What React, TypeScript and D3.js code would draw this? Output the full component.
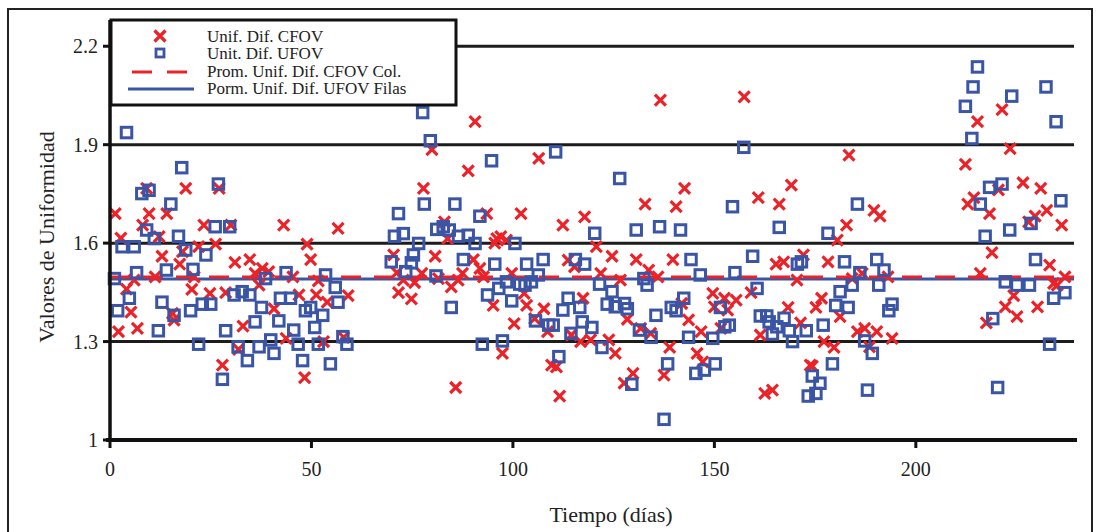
import React from "react";
import * as d3 from "d3";

const cfovDays = [
  1.3, 2.7, 2.1, 4.1, 5.2, 6.0, 6.8, 8.1, 9.1, 9.7, 11.2, 12.2, 12.9, 14.1, 15.5, 15.9, 17.3, 18.0, 18.8, 20.3,
  20.9, 22.0, 23.3, 24.8, 26.2, 27.1, 27.9, 28.7, 30.0, 31.0, 31.9, 33.0, 34.7, 36.0, 37.0, 37.8, 39.4, 40.7, 43.1, 43.7,
  45.4, 46.9, 48.3, 48.9, 49.8, 51.2, 51.7, 53.0, 53.9, 56.6, 58.0, 59.1, 70.4, 71.6, 71.2, 72.8, 74.8, 75.6, 77.4, 77.8,
  90.6, 79.9, 88.9, 106.4, 93.5, 102.0, 112.4, 117.8, 83.0, 83.8, 80.7, 96.0, 97.0, 98.4, 95.5, 90.2, 87.5, 86.4, 84.7, 81.5,
  91.8, 92.7, 99.7, 95.1, 102.8, 103.4, 100.3, 107.7, 108.6, 105.4, 97.4, 85.8, 109.6, 110.8, 111.6, 113.7, 115.3, 117.4, 116.8, 114.5,
  136.6, 157.4, 142.6, 132.8, 140.5, 120.7, 124.6, 130.6, 139.7, 133.7, 136.0, 121.8, 126.7, 128.4, 131.7, 134.2, 119.3, 123.8, 125.4, 138.9,
  129.8, 127.6, 137.5, 143.6, 145.7, 146.7, 147.1, 149.6, 150.0, 152.5, 153.3, 155.4, 151.6, 141.9,
  183.4, 169.1, 160.9, 166.1, 189.6, 191.1, 182.8, 180.5, 172.1, 165.3, 167.2, 178.2, 170.5, 184.2, 186.7, 193.1, 159.1, 176.6, 175.2, 181.2,
  168.3, 171.4, 161.4, 185.5, 187.3, 190.3, 194.1, 177.2, 179.7, 188.5, 173.8, 174.3, 162.5, 164.4,
  221.4, 215.3, 223.4, 212.3, 226.6, 231.0, 220.5, 214.4, 212.9, 218.3, 232.5, 229.6, 228.0, 236.2, 218.9, 233.2, 216.0, 237.0, 234.2, 235.1,
  224.3, 222.2, 230.2, 225.1, 217.5,
];
const cfovValues = [
  1.69, 1.615, 1.33, 1.46, 1.39, 1.487, 1.34, 1.655, 1.767, 1.69, 1.497, 1.62, 1.56, 1.69, 1.386, 1.365, 1.536, 1.574, 1.767, 1.459,
  1.497, 1.589, 1.655, 1.447, 1.597, 1.767, 1.228, 1.449, 1.655, 1.541, 1.276, 1.347, 1.55, 1.508, 1.472, 1.523, 1.513, 1.4, 1.655, 1.31,
  1.497, 1.442, 1.19, 1.597, 1.55, 1.442, 1.485, 1.3, 1.42, 1.645, 1.313, 1.44, 1.564, 1.449, 1.51, 1.487, 1.43, 1.48, 1.508, 1.767,
  1.97, 1.885, 1.82, 1.858, 1.69, 1.69, 1.655, 1.68, 1.665, 1.614, 1.56, 1.614, 1.62, 1.609, 1.6, 1.55, 1.508, 1.487, 1.467, 1.492,
  1.523, 1.497, 1.508, 1.41, 1.447, 1.41, 1.355, 1.4, 1.33, 1.37, 1.264, 1.16, 1.228, 1.223, 1.134, 1.548, 1.528, 1.432, 1.3, 1.32,
  2.036, 2.046, 1.767, 1.719, 1.711, 1.589, 1.56, 1.55, 1.55, 1.518, 1.497, 1.508, 1.487, 1.368, 1.34, 1.325, 1.305, 1.305, 1.264, 1.282,
  1.203, 1.173, 1.198, 1.366, 1.264, 1.33, 1.238, 1.447, 1.406, 1.432, 1.396, 1.426, 1.34, 1.416,
  1.868, 1.777, 1.739, 1.719, 1.7, 1.682, 1.655, 1.609, 1.564, 1.536, 1.543, 1.543, 1.487, 1.492, 1.508, 1.497, 1.449, 1.432, 1.404, 1.376,
  1.404, 1.357, 1.32, 1.33, 1.34, 1.33, 1.31, 1.3, 1.282, 1.284, 1.228, 1.225, 1.142, 1.152,
  2.007, 1.97, 1.888, 1.84, 1.784, 1.767, 1.762, 1.739, 1.719, 1.69, 1.7, 1.682, 1.665, 1.655, 1.571, 1.533, 1.508, 1.497, 1.477, 1.472,
  1.44, 1.406, 1.406, 1.376, 1.357,
];

const ufovDays = [
  4.1, 17.8, 26.9, 7.9, 9.7, 15.1, 9.1, 11.0, 17.0, 26.1, 29.7, 3.0, 6.0, 18.8, 23.8, 1.1, 6.6, 14.0, 20.6, 38.6,
  4.8, 1.9, 12.9, 15.9, 20.0, 22.9, 25.0, 30.8, 32.8, 34.7, 37.6, 12.0, 28.7, 36.0, 22.0, 31.8, 37.0, 34.1, 27.9,
  77.6, 78.0, 71.6, 70.6, 72.8, 76.6, 69.8, 75.3, 74.8, 73.4, 43.7, 53.5, 55.9, 42.3, 44.8, 56.6, 48.5, 49.8, 52.8, 41.9,
  45.6, 50.8, 39.9, 40.7, 46.7, 51.7, 57.8, 58.8, 47.8, 54.7,
  79.5, 110.6, 94.7, 85.6, 91.8, 81.1, 82.7, 84.2, 86.5, 88.9, 90.6, 100.5, 87.7, 95.5, 103.4, 107.5, 115.5, 117.8, 80.9, 106.3,
  98.4, 101.7, 103.0, 104.6, 96.5, 93.7, 99.7, 84.7, 113.7, 112.4, 116.6, 105.6, 108.9, 110.0, 117.2, 114.4, 92.4, 97.4, 111.4,
  157.3, 126.5, 154.5, 120.3, 130.6, 136.4, 141.6, 144.2, 146.5, 155.1, 132.5, 133.3, 121.5, 124.6, 123.4, 125.4, 127.7, 128.4, 135.5, 139.3,
  140.5, 142.4, 151.5, 152.6, 153.7, 119.6, 131.4, 134.3, 143.6, 149.6, 122.1, 138.4, 145.4, 147.5, 150.2, 129.5, 137.5,
  185.5, 166.1, 178.2, 159.5, 170.6, 171.6, 182.3, 190.3, 186.1, 192.1, 184.2, 190.8, 160.6, 181.2, 180.1, 183.2, 194.1, 193.3, 161.4, 163.0,
  167.3, 163.6, 165.5, 177.0, 164.4, 168.6, 172.8, 169.4, 187.3, 189.2, 179.3, 174.3, 176.2, 175.2, 173.3, 188.0,
  215.3, 214.2, 232.3, 223.8, 212.3, 234.8, 213.9, 221.4, 218.3, 236.0, 216.0, 228.6, 223.3, 217.2, 229.7, 222.2, 225.1, 228.2, 237.0, 234.2,
  219.1, 233.2, 220.3,
];
const ufovValues = [
  1.937, 1.83, 1.78, 1.751, 1.761, 1.719, 1.64, 1.614, 1.621, 1.65, 1.65, 1.589, 1.589, 1.579, 1.564, 1.492, 1.51, 1.518, 1.52, 1.492,
  1.432, 1.394, 1.42, 1.38, 1.394, 1.414, 1.414, 1.442, 1.452, 1.442, 1.404, 1.333, 1.333, 1.36, 1.292, 1.284, 1.284, 1.242, 1.185,
  1.998, 1.719, 1.69, 1.621, 1.629, 1.599, 1.543, 1.564, 1.54, 1.513, 1.51, 1.503, 1.465, 1.432, 1.432, 1.42, 1.394, 1.404, 1.38, 1.363,
  1.335, 1.343, 1.305, 1.264, 1.292, 1.292, 1.315, 1.292, 1.242, 1.232,
  1.912, 1.878, 1.851, 1.719, 1.682, 1.642, 1.65, 1.64, 1.621, 1.624, 1.599, 1.599, 1.55, 1.536, 1.536, 1.55, 1.55, 1.536, 1.5, 1.503,
  1.482, 1.475, 1.472, 1.482, 1.462, 1.442, 1.424, 1.404, 1.432, 1.396, 1.404, 1.363, 1.35, 1.35, 1.36, 1.325, 1.292, 1.302, 1.254,
  1.892, 1.797, 1.711, 1.63, 1.64, 1.65, 1.64, 1.55, 1.503, 1.51, 1.492, 1.472, 1.475, 1.452, 1.414, 1.406, 1.416, 1.4, 1.38, 1.404,
  1.394, 1.432, 1.404, 1.345, 1.35, 1.343, 1.335, 1.313, 1.313, 1.31, 1.282, 1.232, 1.203, 1.213, 1.232, 1.17, 1.063,
  1.719, 1.648, 1.63, 1.56, 1.536, 1.543, 1.543, 1.55, 1.51, 1.518, 1.472, 1.472, 1.462, 1.452, 1.41, 1.404, 1.414, 1.394, 1.378, 1.378,
  1.371, 1.36, 1.345, 1.35, 1.323, 1.333, 1.333, 1.3, 1.302, 1.264, 1.232, 1.195, 1.173, 1.142, 1.134, 1.152,
  2.137, 2.076, 2.076, 2.048, 2.017, 1.97, 1.919, 1.78, 1.77, 1.729, 1.719, 1.66, 1.64, 1.621, 1.55, 1.482, 1.472, 1.472, 1.449, 1.432,
  1.37, 1.292, 1.16,
];

const cfovMean = 1.497;
const ufovMean = 1.491;
const yTicks = [1, 1.3, 1.6, 1.9, 2.2];
const xTicks = [0, 50, 100, 150, 200];
const legendLabels = [
  "Unif. Dif. CFOV",
  "Unit. Dif. UFOV",
  "Prom. Unif. Dif. CFOV Col.",
  "Porm. Unif. Dif. UFOV Filas",
];

const RED = "#ec2229";
const BLUE = "#3a55a6";
const FONT = "'Liberation Serif', 'Times New Roman', serif";

export default function App() {
  const x = d3.scaleLinear().domain([0, 240]).range([110, 1077]);
  const y = d3.scaleLinear().domain([1, 2.28]).range([440, 20]);
  const crossPath = "M-5.5,-5.5L5.5,5.5M-5.5,5.5L5.5,-5.5";
  const sq = 10.5;

  return (
    <svg
      width={1101}
      height={532}
      style={{ position: "absolute", left: 0, top: 0, background: "#fff" }}
      fontFamily={FONT}
    >
      <rect x={0} y={0} width={1101} height={532} fill="#fff" />
      <rect x={8} y={9} width={1084} height={540} fill="none" stroke="#222" strokeWidth={2} />

      {yTicks.filter((t) => t > 1).map((t) => (
        <line key={t} x1={x(0)} x2={x(240) - 3} y1={y(t)} y2={y(t)} stroke="#1c1c1c" strokeWidth={3} />
      ))}

      <line x1={x(0)} x2={x(240) - 3} y1={y(ufovMean)} y2={y(ufovMean)} stroke={BLUE} strokeWidth={3} />
      <line
        x1={x(0)}
        x2={x(240) - 3}
        y1={y(cfovMean)}
        y2={y(cfovMean)}
        stroke={RED}
        strokeWidth={3}
        strokeDasharray="20 13"
      />

      {cfovDays.map((d, i) => (
        <path
          key={"c" + i}
          d={crossPath}
          transform={`translate(${x(d)},${y(cfovValues[i])})`}
          stroke={RED}
          strokeWidth={3.2}
          fill="none"
        />
      ))}

      {ufovDays.map((d, i) => (
        <rect
          key={"u" + i}
          x={x(d) - sq / 2}
          y={y(ufovValues[i]) - sq / 2}
          width={sq}
          height={sq}
          fill="none"
          stroke={BLUE}
          strokeWidth={3}
        />
      ))}

      <line x1={x(0)} x2={x(0)} y1={y(2.28)} y2={y(1) + 2} stroke="#111" strokeWidth={3.5} />
      <line x1={x(0) - 4} x2={x(240)} y1={y(1)} y2={y(1)} stroke="#111" strokeWidth={4} />
      {yTicks.map((t) => (
        <g key={"yt" + t}>
          <line x1={x(0) - 7} x2={x(0)} y1={y(t)} y2={y(t)} stroke="#111" strokeWidth={3} />
          <text x={x(0) - 12} y={y(t) + 7} textAnchor="end" fontSize={20} fill="#222">
            {t}
          </text>
        </g>
      ))}
      {xTicks.map((t) => (
        <g key={"xt" + t}>
          <line x1={x(t)} x2={x(t)} y1={y(1)} y2={y(1) + 8} stroke="#111" strokeWidth={3} />
          <text x={x(t)} y={476} textAnchor="middle" fontSize={20} fill="#222">
            {t}
          </text>
        </g>
      ))}

      <text x={611} y={522} textAnchor="middle" fontSize={22} fill="#222">
        Tiempo (días)
      </text>
      <text transform="translate(54, 237) rotate(-90)" textAnchor="middle" fontSize={22} fill="#222">
        Valores de Uniformidad
      </text>

      <rect x={111} y={20} width={345} height={85} fill="#fff" stroke="#111" strokeWidth={3} />
      <path d={crossPath} transform="translate(160,36)" stroke={RED} strokeWidth={3.2} fill="none" />
      <rect x={156} y={49} width={8} height={8} fill="none" stroke={BLUE} strokeWidth={2.8} />
      <line x1={132} x2={187} y1={72} y2={72} stroke={RED} strokeWidth={3} strokeDasharray="20 15" />
      <line x1={128} x2={194} y1={89} y2={89} stroke={BLUE} strokeWidth={3} />
      {legendLabels.map((l, i) => (
        <text key={l} x={207} y={41.5 + i * 17.5} fontSize={17} textLength={undefined} fill="#222">
          {l}
        </text>
      ))}
    </svg>
  );
}
